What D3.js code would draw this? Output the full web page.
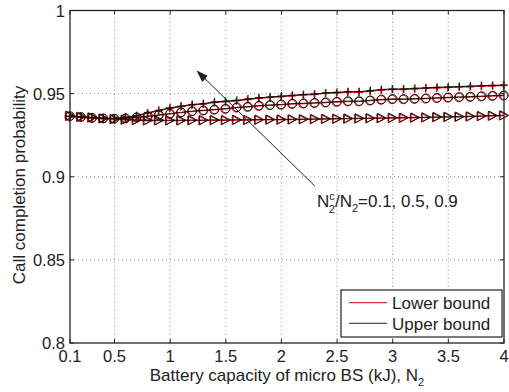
<!DOCTYPE html>
<html lang="en">
<head>
    <meta charset="UTF-8">
    <title>Call completion probability vs battery capacity</title>
    <script src="https://d3js.org/d3.v7.min.js"></script>
    <style>
        body { margin: 0; background: #fff; }
        text { font-family: "Liberation Sans", Arial, sans-serif; fill: #222; }
    </style>
</head>
<body>
    <svg id="chart"></svg>

    <script>
        // Battery capacity N2 (kJ)
        const capacity = [0.1, 0.2, 0.3, 0.4, 0.5, 0.6, 0.7, 0.8, 0.9, 1.0,
                          1.1, 1.2, 1.3, 1.4, 1.5, 1.6, 1.7, 1.8, 1.9, 2.0,
                          2.1, 2.2, 2.3, 2.4, 2.5, 2.6, 2.7, 2.8, 2.9, 3.0,
                          3.1, 3.2, 3.3, 3.4, 3.5, 3.6, 3.7, 3.8, 3.9, 4.0];

        // upper bound, N2c/N2 = 0.9 (plus markers)
        const upper09 = [0.9365, 0.9360, 0.9355, 0.9352, 0.9352, 0.9358, 0.9368, 0.9385, 0.9400, 0.9415,
                         0.9425, 0.9435, 0.9440, 0.9450, 0.9455, 0.9460, 0.9468, 0.9475, 0.9480, 0.9485,
                         0.9490, 0.9495, 0.9498, 0.9505, 0.9508, 0.9512, 0.9512, 0.9518, 0.9525, 0.9528,
                         0.9528, 0.9532, 0.9535, 0.9538, 0.9540, 0.9543, 0.9545, 0.9548, 0.9550, 0.9552];
        // upper bound, N2c/N2 = 0.5 (circle markers)
        const upper05 = [0.9365, 0.9360, 0.9355, 0.9352, 0.9350, 0.9352, 0.9358, 0.9365, 0.9372, 0.9380,
                         0.9388, 0.9395, 0.9400, 0.9405, 0.9410, 0.9418, 0.9422, 0.9428, 0.9432, 0.9435,
                         0.9440, 0.9442, 0.9445, 0.9448, 0.9452, 0.9455, 0.9455, 0.9460, 0.9465, 0.9468,
                         0.9468, 0.9470, 0.9472, 0.9475, 0.9478, 0.9480, 0.9482, 0.9485, 0.9488, 0.9490];
        // upper bound, N2c/N2 = 0.1 (triangle markers)
        const upper01 = [0.9368, 0.9362, 0.9358, 0.9352, 0.9348, 0.9345, 0.9342, 0.9340, 0.9340, 0.9340,
                         0.9340, 0.9341, 0.9341, 0.9342, 0.9342, 0.9343, 0.9343, 0.9344, 0.9345, 0.9345,
                         0.9346, 0.9347, 0.9348, 0.9349, 0.9350, 0.9351, 0.9352, 0.9353, 0.9354, 0.9355,
                         0.9356, 0.9357, 0.9358, 0.9360, 0.9361, 0.9362, 0.9364, 0.9366, 0.9368, 0.9370];
        // lower bounds sit just under the upper bounds
        const lower09 = [0.9362, 0.9357, 0.9352, 0.9349, 0.9349, 0.9355, 0.9365, 0.9381, 0.9396, 0.9411,
                         0.9421, 0.9431, 0.9436, 0.9446, 0.9451, 0.9456, 0.9464, 0.9471, 0.9476, 0.9481,
                         0.9486, 0.9491, 0.9494, 0.9501, 0.9504, 0.9508, 0.9508, 0.9514, 0.9521, 0.9524,
                         0.9524, 0.9528, 0.9531, 0.9534, 0.9536, 0.9539, 0.9541, 0.9544, 0.9546, 0.9548];
        const lower05 = [0.9362, 0.9357, 0.9352, 0.9349, 0.9347, 0.9349, 0.9355, 0.9362, 0.9369, 0.9377,
                         0.9385, 0.9392, 0.9397, 0.9402, 0.9407, 0.9415, 0.9419, 0.9425, 0.9429, 0.9432,
                         0.9437, 0.9439, 0.9442, 0.9445, 0.9449, 0.9452, 0.9452, 0.9457, 0.9462, 0.9465,
                         0.9465, 0.9467, 0.9469, 0.9472, 0.9475, 0.9477, 0.9479, 0.9482, 0.9485, 0.9487];
        const lower01 = [0.9365, 0.9359, 0.9355, 0.9349, 0.9345, 0.9342, 0.9339, 0.9337, 0.9337, 0.9337,
                         0.9337, 0.9338, 0.9338, 0.9339, 0.9339, 0.9340, 0.9340, 0.9341, 0.9342, 0.9342,
                         0.9343, 0.9344, 0.9345, 0.9346, 0.9347, 0.9348, 0.9349, 0.9350, 0.9351, 0.9352,
                         0.9353, 0.9354, 0.9355, 0.9357, 0.9358, 0.9359, 0.9361, 0.9363, 0.9365, 0.9367];

        const xTicks = [0.1, 0.5, 1, 1.5, 2, 2.5, 3, 3.5, 4];
        const yTicks = [0.8, 0.85, 0.9, 0.95, 1];
        const legendLabels = ["Lower bound", "Upper bound"];

        const width = 509, height = 392;
        const margin = {left: 70, right: 5, top: 10.5, bottom: 49};

        const svg = d3.select("#chart").attr("width", width).attr("height", height);

        const x = d3.scaleLinear().domain([0.1, 4]).range([margin.left, width - margin.right]);
        const y = d3.scaleLinear().domain([0.8, 1]).range([height - margin.bottom, margin.top]);
        const x0 = x.range()[0], x1 = x.range()[1], y0 = y.range()[0], y1 = y.range()[1];

        // dotted grid
        const grid = svg.append("g").attr("stroke", "#999").attr("stroke-width", 1)
            .attr("stroke-dasharray", "1,3");
        grid.selectAll(".gx").data(xTicks.slice(1, -1)).enter().append("line")
            .attr("x1", d => x(d)).attr("x2", d => x(d)).attr("y1", y0).attr("y2", y1);
        grid.selectAll(".gy").data(yTicks.slice(1, -1)).enter().append("line")
            .attr("y1", d => y(d)).attr("y2", d => y(d)).attr("x1", x0).attr("x2", x1);

        // series: red lower bounds first, black upper bounds drawn on top
        const series = [
            {vals: lower01, color: "#e00000", marker: "tri", dx: -0.7},
            {vals: lower05, color: "#e00000", marker: "circle", dx: -0.7},
            {vals: lower09, color: "#e00000", marker: "plus", dx: -0.7},
            {vals: upper01, color: "#111", marker: "tri"},
            {vals: upper05, color: "#111", marker: "circle"},
            {vals: upper09, color: "#111", marker: "plus"}
        ];

        const line = d3.line().x(d => d[0]).y(d => d[1]);
        const plot = svg.append("g");

        function markerPath(type, cx, cy) {
            if (type === "plus") {
                return `M${cx - 4},${cy}H${cx + 4}M${cx},${cy - 4}V${cy + 4}`;
            }
            return `M${cx - 4},${cy - 4.5}L${cx + 4.5},${cy}L${cx - 4},${cy + 4.5}Z`;
        }

        series.forEach(s => {
            const pts = capacity.map((c, i) => [x(c) + (s.dx || 0), y(s.vals[i])]);
            const g = plot.append("g").attr("stroke", s.color).attr("fill", "none").attr("stroke-width", 1);
            g.append("path").attr("d", line(pts));
            pts.forEach(p => {
                if (s.marker === "circle") {
                    g.append("circle").attr("cx", p[0]).attr("cy", p[1]).attr("r", 4.3);
                } else {
                    g.append("path").attr("d", markerPath(s.marker, p[0], p[1]));
                }
            });
        });

        // axis frame
        svg.append("rect").attr("x", x0).attr("y", y1).attr("width", x1 - x0).attr("height", y0 - y1)
            .attr("fill", "none").attr("stroke", "#222").attr("stroke-width", 1.3);

        // ticks inside on all four sides
        const tk = svg.append("g").attr("stroke", "#222").attr("stroke-width", 1);
        xTicks.forEach(t => {
            tk.append("line").attr("x1", x(t)).attr("x2", x(t)).attr("y1", y0).attr("y2", y0 - 4);
            tk.append("line").attr("x1", x(t)).attr("x2", x(t)).attr("y1", y1).attr("y2", y1 + 4);
        });
        yTicks.forEach(t => {
            tk.append("line").attr("y1", y(t)).attr("y2", y(t)).attr("x1", x0).attr("x2", x0 + 4);
            tk.append("line").attr("y1", y(t)).attr("y2", y(t)).attr("x1", x1).attr("x2", x1 - 4);
        });

        // tick labels
        svg.append("g").selectAll("text").data(xTicks).enter().append("text")
            .attr("x", d => x(d)).attr("y", y0 + 19)
            .attr("text-anchor", "middle").attr("font-size", 16.5)
            .text(d => d);
        svg.append("g").selectAll("text").data(yTicks).enter().append("text")
            .attr("x", x0 - 5).attr("y", d => y(d) + 6)
            .attr("text-anchor", "end").attr("font-size", 16.5)
            .text(d => d);

        // axis titles
        const xl = svg.append("text").attr("x", 287).attr("y", 381)
            .attr("text-anchor", "middle").attr("font-size", 17);
        xl.append("tspan").text("Battery capacity of micro BS (kJ), N");
        xl.append("tspan").attr("font-size", 11).attr("dy", 5).text("2");

        svg.append("text")
            .attr("transform", "translate(25,185) rotate(-90)")
            .attr("text-anchor", "middle").attr("font-size", 17)
            .text("Call completion probability");

        // annotation arrow
        svg.append("defs").append("marker").attr("id", "ah")
            .attr("viewBox", "0 0 10 10").attr("refX", 9).attr("refY", 5)
            .attr("markerWidth", 12).attr("markerHeight", 12).attr("orient", "auto")
            .append("path").attr("d", "M0,1.5L10,5L0,8.5Z").attr("fill", "#222");
        svg.append("line").attr("x1", x(2.3)).attr("y1", y(0.8944))
            .attr("x2", x(1.245)).attr("y2", y(0.9634))
            .attr("stroke", "#222").attr("stroke-width", 1).attr("marker-end", "url(#ah)");

        const ann = svg.append("text").attr("x", x(2.32)).attr("y", y(0.8817)).attr("font-size", 17);
        ann.append("tspan").text("N");
        ann.append("tspan").attr("font-size", 11).attr("dy", -7).text("c");
        ann.append("tspan").attr("font-size", 11).attr("dx", -6).attr("dy", 13).text("2");
        ann.append("tspan").attr("dy", -6).text("/N");
        ann.append("tspan").attr("font-size", 11).attr("dy", 5).text("2");
        ann.append("tspan").attr("dy", -5).text("=0.1, 0.5, 0.9");

        // legend
        const lg = svg.append("g").attr("transform", "translate(341,290)");
        lg.append("rect").attr("width", 161).attr("height", 47)
            .attr("fill", "#fff").attr("stroke", "#222").attr("stroke-width", 1.2);
        const legendColors = ["#e00000", "#222"];
        legendLabels.forEach((lab, i) => {
            lg.append("line").attr("x1", 8).attr("x2", 46).attr("y1", 12.7 + i * 20.6).attr("y2", 12.7 + i * 20.6)
                .attr("stroke", legendColors[i]).attr("stroke-width", 1);
            lg.append("text").attr("x", 51).attr("y", 19 + i * 20.6).attr("font-size", 17).text(lab);
        });
    </script>
</body>
</html>
